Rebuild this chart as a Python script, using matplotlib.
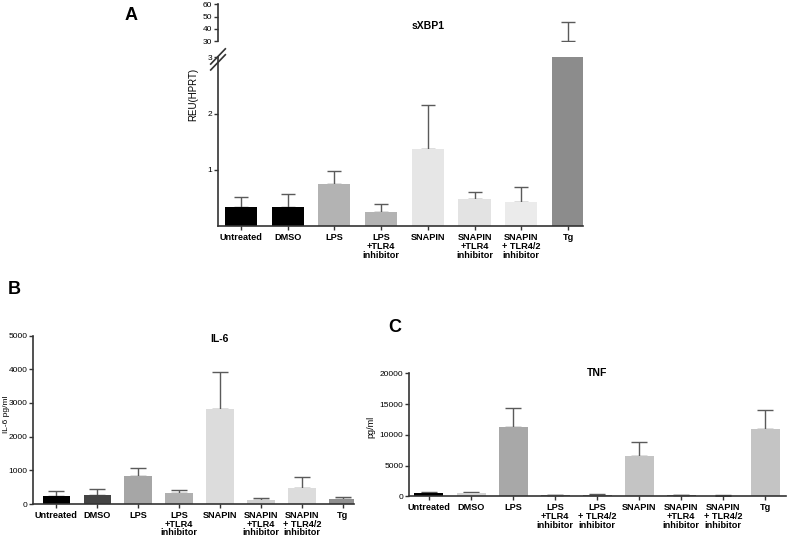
import matplotlib
matplotlib.use("Agg")
import matplotlib.pyplot as plt
import numpy as np

plt.rcParams['font.family'] = ['Liberation Sans', 'DejaVu Sans']

# ---- data ----
labels_ab = ["Untreated", "DMSO", "LPS", "LPS\n+TLR4\ninhibitor", "SNAPIN",
             "SNAPIN\n+TLR4\ninhibitor", "SNAPIN\n+ TLR4/2\ninhibitor", "Tg"]
labels_c = ["Untreated", "DMSO", "LPS", "LPS\n+TLR4\ninhibitor", "LPS\n+ TLR4/2\ninhibitor",
            "SNAPIN", "SNAPIN\n+TLR4\ninhibitor", "SNAPIN\n+ TLR4/2\ninhibitor", "Tg"]

xbp1_mean = [0.35, 0.35, 0.75, 0.25, 1.38, 0.48, 0.43, 30.3]
xbp1_err = [0.17, 0.22, 0.24, 0.15, 0.77, 0.13, 0.27, 15.0]

il6_mean = [250, 265, 840, 325, 2810, 120, 465, 140]
il6_err = [135, 170, 240, 90, 1100, 70, 345, 80]

tnf_mean = [600, 480, 11300, 150, 200, 6600, 150, 100, 10900]
tnf_err = [160, 170, 3100, 110, 110, 2300, 100, 90, 3100]

colors_a = ["#000000", "#000000", "#b3b3b3", "#b3b3b3", "#e6e6e6", "#e3e3e3", "#ebebeb", "#8c8c8c"]
colors_b = ["#000000", "#444444", "#a6a6a6", "#b0b0b0", "#dcdcdc", "#d0d0d0", "#dcdcdc", "#8f8f8f"]
colors_c = ["#000000", "#d4d4d4", "#a8a8a8", "#777777", "#777777", "#c4c4c4", "#666666", "#999999", "#c4c4c4"]

ERR_COLOR = "#5a5a5a"
SPINE = "#333333"


def style_axis(ax):
    for s in ["top", "right"]:
        ax.spines[s].set_visible(False)
    for s in ["left", "bottom"]:
        ax.spines[s].set_linewidth(1.2)
        ax.spines[s].set_color(SPINE)
    ax.tick_params(axis="y", length=3, width=1, labelsize=6, pad=1, color=SPINE)
    ax.tick_params(axis="x", length=3, width=1, pad=2, color=SPINE)


def bars(ax, mean, err, colors, width, capsize):
    x = np.arange(len(mean))
    ax.bar(x, mean, width=width, color=colors, zorder=2)
    ax.errorbar(x, mean, yerr=[np.zeros(len(err)), err], fmt="none",
                ecolor=ERR_COLOR, elinewidth=1, capsize=capsize, capthick=1, zorder=1)
    return x


def xlabels(ax, x, labels):
    ax.set_xticks(x)
    ax.set_xticklabels(labels, fontsize=6.6, fontweight="bold", linespacing=0.95)


fig = plt.figure(figsize=(7.89, 5.36), dpi=100)

# ---- panel A: sXBP1, broken axis ----
axA = fig.add_axes([0.2763, 0.5778, 0.4626, 0.3153])
axA2 = fig.add_axes([0.2763, 0.9235, 0.4626, 0.0685])
axA2.patch.set_visible(False)
xa = bars(axA, xbp1_mean, xbp1_err, colors_a, 0.69, 5)
bars(axA2, xbp1_mean, xbp1_err, colors_a, 0.69, 5)
style_axis(axA)
style_axis(axA2)
axA.set_xlim(-0.49, 7.32)
axA.set_ylim(0, 3)
axA.set_yticks([1, 2, 3])
xlabels(axA, xa, labels_ab)
axA.set_ylabel("REU(HPRT)", fontsize=7)
axA.yaxis.set_label_coords(-0.055, 0.78)

axA2.set_xlim(-0.49, 7.32)
axA2.set_ylim(30, 60)
axA2.set_yticks([30, 40, 50, 60])
axA2.spines["bottom"].set_visible(False)
axA2.set_xticks([])

# break marks on the lower axis
for dy in (0.0, 0.035):
    axA.plot([-0.02, 0.02], [0.96 - dy, 1.05 - dy], transform=axA.transAxes,
             color=SPINE, lw=1.2, clip_on=False)

fig.text(428 / 789, 1 - 26 / 536, "sXBP1", ha="center", va="center",
         fontsize=7.5, fontweight="bold")
fig.text(125 / 789, 1 - 15 / 536, "A", fontsize=13, fontweight="bold", va="center")

# ---- panel B: IL-6 ----
axB = fig.add_axes([0.0418, 0.0597, 0.4068, 0.3143])
xb = bars(axB, il6_mean, il6_err, colors_b, 0.67, 5.5)
style_axis(axB)
axB.set_xlim(-0.57, 7.27)
axB.set_ylim(0, 5000)
axB.set_yticks([0, 1000, 2000, 3000, 4000, 5000])
xlabels(axB, xb, labels_ab)
axB.set_ylabel("IL-6 pg/ml", fontsize=6)
axB.yaxis.set_label_coords(-0.072, 0.53)
axB.text(0.58, 0.98, "IL-6", transform=axB.transAxes, ha="center", va="center",
         fontsize=7.5, fontweight="bold")
fig.text(8 / 789, 1 - 290 / 536, "B", fontsize=13, fontweight="bold", va="center")

# ---- panel C: TNF ----
axC = fig.add_axes([0.5184, 0.0741, 0.4778, 0.2295])
xc = bars(axC, tnf_mean, tnf_err, colors_c, 0.69, 5.5)
style_axis(axC)
axC.set_xlim(-0.475, 8.49)
axC.set_ylim(0, 20000)
axC.set_yticks([0, 5000, 10000, 15000, 20000])
xlabels(axC, xc, labels_c)
axC.set_ylabel("pg/ml", fontsize=6.5)
axC.yaxis.set_label_coords(-0.09, 0.56)
axC.text(0.5, 1.0, "TNF", transform=axC.transAxes, ha="center", va="center",
         fontsize=7.5, fontweight="bold")
fig.text(388 / 789, 1 - 327 / 536, "C", fontsize=13, fontweight="bold", va="center")

fig.savefig("out.png", dpi=100)
